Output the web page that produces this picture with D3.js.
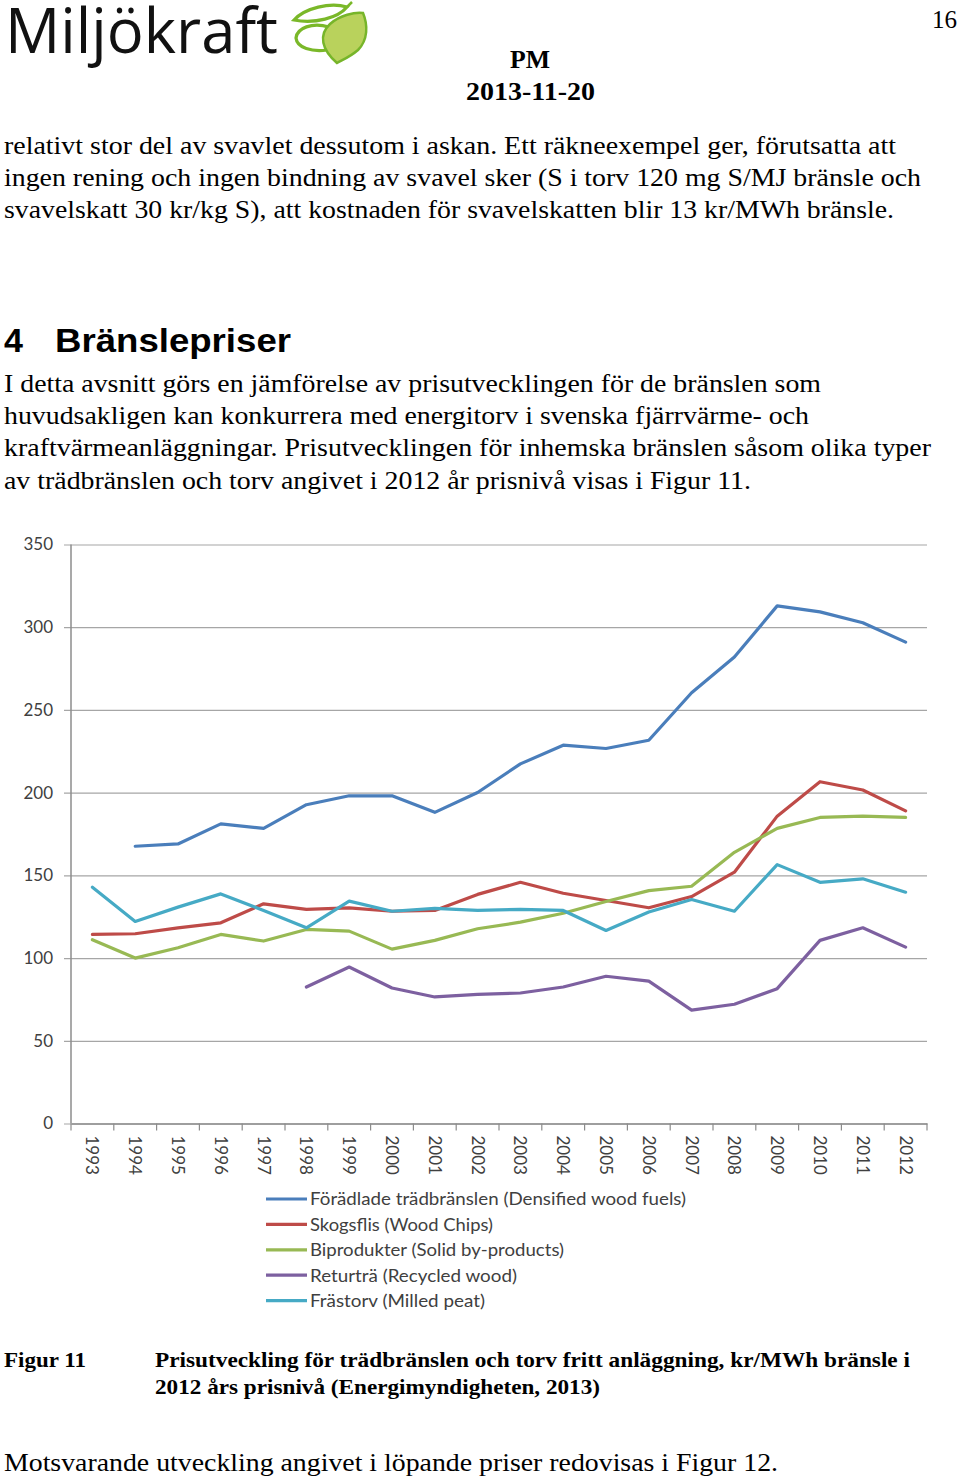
<!DOCTYPE html>
<html><head><meta charset="utf-8">
<script src="https://cdn.jsdelivr.net/npm/d3@7"></script>
<style>html,body{margin:0;padding:0;background:#fff;}svg{display:block;}</style>
</head><body>
<script>
// ---------- DATA ----------
const years = ["1993","1994","1995","1996","1997","1998","1999","2000","2001","2002","2003","2004","2005","2006","2007","2008","2009","2010","2011","2012"];
const foradlade = [null,167.6,169.0,181.1,178.4,192.7,198.1,198.1,188.1,200.1,217.4,228.7,226.7,231.7,260.4,282.0,312.9,309.3,302.7,291.0];
const skogsflis = [114.3,114.7,118.3,121.3,132.8,129.4,130.4,128.3,128.8,138.5,145.8,139.2,134.8,130.4,137.2,151.9,185.8,206.6,201.6,189.0];
const biprodukter = [111.1,100.0,106.2,114.3,110.3,117.3,116.3,105.4,110.7,117.7,121.7,127.1,134.2,140.8,143.4,163.9,178.4,185.0,185.8,185.0];
const returtra = [null,null,null,null,null,82.5,94.6,81.9,76.5,78.1,78.9,82.5,89.0,86.1,68.5,72.1,81.5,110.7,118.3,106.6];
const frastorv = [142.8,122.1,130.8,138.8,128.8,118.3,134.4,128.3,130.0,128.8,129.4,128.8,116.7,127.8,135.4,128.3,156.5,145.8,147.9,139.8];
const seriesNames = ["Förädlade trädbränslen (Densified wood fuels)","Skogsflis (Wood Chips)","Biprodukter (Solid by-products)","Returträ (Recycled wood)","Frästorv (Milled peat)"];
const seriesValues = [foradlade, skogsflis, biprodukter, returtra, frastorv];
const seriesColors = ["#4a7ebb","#be4b48","#98b954","#7d60a0","#46aac5"];
const yTicks = [0,50,100,150,200,250,300,350];

const topText = [
  "relativt stor del av svavlet dessutom i askan. Ett räkneexempel ger, förutsatta att",
  "ingen rening och ingen bindning av svavel sker (S i torv 120 mg S/MJ bränsle och",
  "svavelskatt 30 kr/kg S), att kostnaden för svavelskatten blir 13 kr/MWh bränsle."
];
const paraText = [
  "I detta avsnitt görs en jämförelse av prisutvecklingen för de bränslen som",
  "huvudsakligen kan konkurrera med energitorv i svenska fjärrvärme- och",
  "kraftvärmeanläggningar. Prisutvecklingen för inhemska bränslen såsom olika typer",
  "av trädbränslen och torv angivet i 2012 år prisnivå visas i Figur 11."
];
const captionLabel = "Figur 11";
const captionText = [
  "Prisutveckling för trädbränslen och torv fritt anläggning, kr/MWh bränsle i",
  "2012 års prisnivå (Energimyndigheten, 2013)"
];
const lastLine = "Motsvarande utveckling angivet i löpande priser redovisas i Figur 12.";

// ---------- PAGE ----------
const W = 960, H = 1479;
const svg = d3.select("body").append("svg").attr("width", W).attr("height", H);
svg.append("rect").attr("width", W).attr("height", H).attr("fill", "#fff");

function txt(s, x, y, opts) {
  const t = svg.append("text").attr("x", x).attr("y", y).text(s)
    .attr("font-family", opts.family || "'Liberation Serif', serif")
    .attr("font-size", opts.size || 24)
    .attr("font-weight", opts.weight || "normal")
    .attr("fill", opts.fill || "#000");
  if (opts.anchor) t.attr("text-anchor", opts.anchor);
  if (opts.len) t.attr("textLength", opts.len).attr("lengthAdjust", "spacingAndGlyphs");
  return t;
}

// Header / logo
txt("Miljökraft", 5, 53, {family:"'Open Sans', sans-serif", size:62, len:273, fill:"#111"});
const logo = svg.append("g");
logo.append("path").attr("d","M294,20 C305,8 330,2 347,7 C338,18 315,24 294,20 Z")
  .attr("fill","none").attr("stroke","#7ab829").attr("stroke-width",3.2);
logo.append("path").attr("d","M329,27 C312,22 297,28 296,38 C297,48 312,52 327,50")
  .attr("fill","none").attr("stroke","#7ab829").attr("stroke-width",3.2);
logo.append("path").attr("d","M347,7 L352,2").attr("stroke","#7ab829").attr("stroke-width",2.5);
logo.append("path").attr("d","M337,63 C322,50 318,35 330,24 C340,15 355,12 363,13 C368,25 368,40 358,50 C350,57 342,60 337,63 Z")
  .attr("fill","#b9d25c").attr("stroke","#77b52a").attr("stroke-width",2.5);

txt("16", 957, 28, {size:25, anchor:"end"});
txt("PM", 530, 68, {size:25, weight:"bold", anchor:"middle", len:40});
txt("2013-11-20", 466, 100, {size:25, weight:"bold", len:129});

// top paragraph
const topLens = [892, 917, 890];
topText.forEach((s,i) => txt(s, 4, 154 + i*32, {size:25, len: topLens[i]}));

// heading
txt("4", 4, 352, {family:"'Liberation Sans', Arial, sans-serif", size:34, weight:"bold"});
txt("Bränslepriser", 55, 352, {family:"'Liberation Sans', Arial, sans-serif", size:34, weight:"bold", len:236});

const paraLens = [817, 805, 927, 747];
paraText.forEach((s,i) => txt(s, 4, 392 + i*32.2, {size:25, len: paraLens[i]}));

// ---------- CHART ----------
const plotL = 71, plotR = 927, plotT = 544.5, plotB = 1123.5;
const x = d3.scaleBand().domain(years).range([plotL, plotR]).padding(0);
const y = d3.scaleLinear().domain([0, 350]).range([plotB, plotT]);
const chart = svg.append("g");
const chartFont = "Lato, 'Open Sans', sans-serif";

// gridlines + y labels
const gy = chart.append("g").attr("transform", `translate(${plotL},0)`)
  .call(d3.axisLeft(y).tickValues(yTicks).tickSize(-(plotR - plotL)).tickPadding(18).tickFormat(d3.format("d")));
gy.select(".domain").remove();
gy.selectAll(".tick line").attr("x1", -7).attr("stroke", "#a6a6a6").attr("stroke-width", 1.2);
gy.selectAll(".tick text").attr("font-family", chartFont).attr("font-size", 17).attr("fill", "#404040");

// y axis line
chart.append("line").attr("x1", plotL).attr("x2", plotL).attr("y1", plotT).attr("y2", plotB)
  .attr("stroke", "#8c8c8c").attr("stroke-width", 1.5);

// x axis
const gx = chart.append("g").attr("transform", `translate(0,${plotB})`)
  .call(d3.axisBottom(x).tickSize(0).tickPadding(0));
gx.select(".domain").attr("stroke", "#8c8c8c").attr("stroke-width", 1.5);
gx.selectAll(".tick text")
  .attr("font-family", chartFont).attr("font-size", 17).attr("fill", "#404040")
  .attr("transform", "rotate(90)").attr("text-anchor", "start")
  .attr("x", 12).attr("y", 0).attr("dy", "0.35em");
// boundary tick marks
const bounds = years.map(d => x(d)).concat([plotR]);
chart.append("g").selectAll("line").data(bounds).join("line")
  .attr("x1", d => d).attr("x2", d => d).attr("y1", plotB).attr("y2", plotB + 7)
  .attr("stroke", "#8c8c8c").attr("stroke-width", 1.2);

// lines
const line = d3.line()
  .defined(d => d.v != null)
  .x(d => x(d.year) + x.bandwidth() / 2)
  .y(d => y(d.v));
seriesValues.forEach((vals, i) => {
  const data = years.map((yr, j) => ({year: yr, v: vals[j]}));
  chart.append("path").datum(data).attr("d", line)
    .attr("fill", "none").attr("stroke", seriesColors[i]).attr("stroke-width", 3.2)
    .attr("stroke-linejoin", "round").attr("stroke-linecap", "round");
});

// legend
const legLens = [376, 183, 254, 207, 175];
const leg = svg.append("g");
seriesNames.forEach((n, i) => {
  const yy = 1199 + i * 25.4;
  leg.append("line").attr("x1", 266).attr("x2", 307).attr("y1", yy).attr("y2", yy)
    .attr("stroke", seriesColors[i]).attr("stroke-width", 3.2);
  leg.append("text").attr("x", 310).attr("y", yy).attr("dy", "0.35em").text(n)
    .attr("font-family", chartFont).attr("font-size", 18).attr("fill", "#404040")
    .attr("textLength", legLens[i]).attr("lengthAdjust", "spacingAndGlyphs");
});

// caption
txt(captionLabel, 4, 1367, {size:21, weight:"bold", len:82});
const capLens = [755, 445];
captionText.forEach((s, i) => txt(s, 155, 1367 + i*27, {size:21, weight:"bold", len: capLens[i]}));
txt(lastLine, 4, 1471, {size:25, len:774});
</script>
</body></html>
